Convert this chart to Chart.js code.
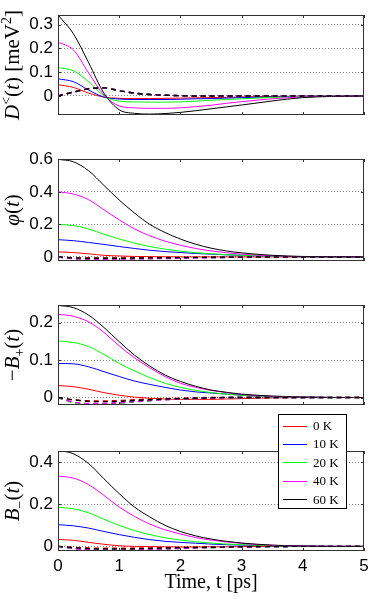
<!DOCTYPE html>
<html>
<head>
<meta charset="utf-8">
<script src="https://cdn.jsdelivr.net/npm/chart.js@4.4.0/dist/chart.umd.min.js"></script>
<style>
  html, body { margin: 0; padding: 0; background: #fff; }
  #wrap { position: relative; width: 374px; height: 599px; overflow: hidden; }
  canvas { position: absolute; left: 0; }
</style>
</head>
<body>
<div id="wrap">
  <canvas id="dLessChart" width="374" height="125" style="top:0px"></canvas>
  <canvas id="phiChart" width="374" height="125" style="top:140px"></canvas>
  <canvas id="bPlusChart" width="374" height="125" style="top:285px"></canvas>
  <canvas id="bMinusChart" width="374" height="189" style="top:410px"></canvas>
</div>
<script>
// time axis, ps
const times = [0, 0.25, 0.5, 0.75, 1, 1.25, 1.5, 1.75, 2, 2.25, 2.5, 2.75, 3, 3.5, 4, 4.5, 5];
const tempLabels = ['0 K', '10 K', '20 K', '40 K', '60 K'];
const xTicks = [0, 1, 2, 3, 4, 5];
const xTickLabels = ['0', '1', '2', '3', '4', '5'];

// D<(t) -- rows: 0 K, 10 K, 20 K, 40 K, 60 K
const dLessSolid = [
  [0.047, 0.036, 0.012, -0.005, -0.010, -0.011, -0.011, -0.010, -0.009, -0.008, -0.007, -0.006, -0.004, -0.002, -0.001, 0, 0],
  [0.072, 0.060, 0.025, -0.005, -0.013, -0.015, -0.015, -0.015, -0.014, -0.012, -0.011, -0.009, -0.007, -0.004, -0.001, 0, 0],
  [0.119, 0.106, 0.060, 0.000, -0.022, -0.025, -0.026, -0.026, -0.025, -0.022, -0.018, -0.015, -0.012, -0.006, -0.002, 0, 0],
  [0.226, 0.194, 0.097, 0.004, -0.042, -0.050, -0.052, -0.052, -0.050, -0.045, -0.039, -0.031, -0.024, -0.012, -0.004, -0.001, 0],
  [0.340, 0.262, 0.140, 0.012, -0.058, -0.073, -0.076, -0.074, -0.069, -0.062, -0.054, -0.046, -0.038, -0.021, -0.007, -0.002, 0]
];
const dLessDashed = [
  [0, 0.016, 0.030, 0.034, 0.022, 0.012, 0.006, 0.003, 0.001, 0, 0, 0, 0, 0, 0, 0, 0],
  [0, 0.016, 0.030, 0.034, 0.022, 0.012, 0.006, 0.003, 0.001, 0, 0, 0, 0, 0, 0, 0, 0],
  [0, 0.016, 0.030, 0.034, 0.022, 0.012, 0.006, 0.003, 0.001, 0, 0, 0, 0, 0, 0, 0, 0],
  [0, 0.016, 0.030, 0.034, 0.022, 0.012, 0.006, 0.003, 0.001, 0, 0, 0, 0, 0, 0, 0, 0],
  [0, 0.016, 0.030, 0.034, 0.022, 0.012, 0.006, 0.003, 0.001, 0, 0, 0, 0, 0, 0, 0, 0]
];
const dLessTicks = [0, 0.1, 0.2, 0.3];
const dLessTickLabels = ['0', '0.1', '0.2', '0.3'];

// phi(t)
const phiSolid = [
  [0.031, 0.027, 0.019, 0.010, 0.006, 0.003, 0.002, 0.001, 0, 0, 0, 0, 0, 0, 0, 0, 0],
  [0.106, 0.100, 0.089, 0.077, 0.064, 0.052, 0.041, 0.033, 0.027, 0.021, 0.017, 0.013, 0.010, 0.004, 0.001, 0, 0],
  [0.200, 0.193, 0.172, 0.139, 0.110, 0.085, 0.064, 0.048, 0.035, 0.026, 0.019, 0.014, 0.010, 0.004, 0.001, 0, 0],
  [0.400, 0.387, 0.352, 0.290, 0.228, 0.172, 0.130, 0.097, 0.072, 0.052, 0.037, 0.026, 0.017, 0.007, 0.002, 0.001, 0],
  [0.600, 0.585, 0.530, 0.440, 0.350, 0.270, 0.200, 0.150, 0.110, 0.078, 0.054, 0.037, 0.025, 0.010, 0.003, 0.001, 0]
];
const phiDashed = [
  [0, -0.005, -0.007, -0.007, -0.007, -0.006, -0.005, -0.004, -0.003, -0.003, -0.002, -0.001, -0.001, 0, 0, 0, 0],
  [0, -0.009, -0.011, -0.011, -0.011, -0.010, -0.009, -0.007, -0.006, -0.005, -0.004, -0.003, -0.002, -0.001, 0, 0, 0],
  [0, -0.010, -0.013, -0.013, -0.012, -0.011, -0.010, -0.008, -0.007, -0.005, -0.004, -0.003, -0.002, -0.001, 0, 0, 0],
  [0, -0.010, -0.013, -0.014, -0.013, -0.012, -0.011, -0.010, -0.008, -0.006, -0.005, -0.003, -0.002, -0.001, 0, 0, 0],
  [0, -0.006, -0.008, -0.008, -0.008, -0.007, -0.006, -0.005, -0.004, -0.003, -0.002, -0.001, -0.001, 0, 0, 0, 0]
];
const phiTicks = [0, 0.2, 0.4, 0.6];
const phiTickLabels = ['0', '0.2', '0.4', '0.6'];

// -B+(t)
const bPlusSolid = [
  [0.032, 0.029, 0.022, 0.013, 0.006, 0.001, -0.002, -0.004, -0.005, -0.005, -0.005, -0.004, -0.003, -0.001, 0, 0, 0],
  [0.091, 0.090, 0.082, 0.069, 0.056, 0.044, 0.035, 0.027, 0.020, 0.015, 0.012, 0.009, 0.006, 0.002, 0.001, 0, 0],
  [0.151, 0.147, 0.136, 0.115, 0.091, 0.071, 0.053, 0.038, 0.027, 0.019, 0.013, 0.009, 0.006, 0.002, 0.001, 0, 0],
  [0.222, 0.217, 0.202, 0.174, 0.138, 0.106, 0.079, 0.056, 0.038, 0.027, 0.019, 0.013, 0.008, 0.003, 0.001, 0, 0],
  [0.246, 0.240, 0.220, 0.187, 0.149, 0.113, 0.084, 0.060, 0.043, 0.030, 0.020, 0.014, 0.009, 0.004, 0.001, 0, 0]
];
const bPlusDashed = [
  [0, -0.006, -0.009, -0.009, -0.008, -0.006, -0.004, -0.003, -0.002, -0.001, 0, 0, 0, 0, 0, 0, 0],
  [0, -0.013, -0.018, -0.017, -0.014, -0.011, -0.008, -0.005, -0.004, -0.002, -0.001, 0, 0, 0, 0, 0, 0],
  [0, -0.014, -0.018, -0.018, -0.015, -0.012, -0.009, -0.006, -0.004, -0.003, -0.002, -0.001, 0, 0, 0, 0, 0],
  [0, -0.012, -0.016, -0.016, -0.014, -0.011, -0.008, -0.006, -0.004, -0.003, -0.002, -0.001, 0, 0, 0, 0, 0],
  [0, -0.006, -0.010, -0.011, -0.010, -0.008, -0.006, -0.004, -0.003, -0.002, -0.001, 0, 0, 0, 0, 0, 0]
];
const bPlusTicks = [0, 0.1, 0.2];
const bPlusTickLabels = ['0', '0.1', '0.2'];

// B-(t)
const bMinusSolid = [
  [0.033, 0.029, 0.019, 0.010, 0.003, 0, -0.001, -0.002, -0.003, -0.003, -0.002, -0.002, -0.001, 0, 0, 0, 0],
  [0.103, 0.098, 0.087, 0.071, 0.056, 0.043, 0.032, 0.024, 0.019, 0.015, 0.011, 0.008, 0.006, 0.002, 0.001, 0, 0],
  [0.186, 0.179, 0.160, 0.129, 0.100, 0.075, 0.056, 0.041, 0.030, 0.022, 0.016, 0.011, 0.008, 0.003, 0.001, 0, 0],
  [0.335, 0.325, 0.294, 0.243, 0.187, 0.143, 0.106, 0.079, 0.059, 0.042, 0.030, 0.021, 0.014, 0.005, 0.002, 0, 0],
  [0.457, 0.441, 0.394, 0.322, 0.251, 0.187, 0.140, 0.100, 0.071, 0.050, 0.035, 0.024, 0.016, 0.006, 0.002, 0, 0]
];
const bMinusDashed = [
  [0, -0.005, -0.008, -0.009, -0.009, -0.008, -0.007, -0.006, -0.005, -0.004, -0.003, -0.002, -0.001, 0, 0, 0, 0],
  [0, -0.009, -0.014, -0.016, -0.016, -0.015, -0.013, -0.011, -0.009, -0.007, -0.005, -0.004, -0.002, -0.001, 0, 0, 0],
  [0, -0.010, -0.015, -0.017, -0.017, -0.016, -0.014, -0.012, -0.010, -0.008, -0.006, -0.004, -0.003, -0.001, 0, 0, 0],
  [0, -0.010, -0.016, -0.018, -0.018, -0.017, -0.015, -0.012, -0.010, -0.008, -0.006, -0.004, -0.003, -0.001, 0, 0, 0],
  [0, -0.006, -0.010, -0.012, -0.012, -0.011, -0.010, -0.008, -0.006, -0.005, -0.004, -0.003, -0.002, -0.001, 0, 0, 0]
];
const bMinusTicks = [0, 0.2, 0.4];
const bMinusTickLabels = ['0', '0.2', '0.4'];

const lineColors = ['#ff0000', '#0000ff', '#00ff00', '#ff00ff', '#000000'];

Chart.defaults.font.family = 'Liberation Sans';
Chart.defaults.color = '#000';

// y label with italics / sub / superscripts, drawn rotated
function drawRotTitle(ctx, parts, cx, cy) {
  const fonts = {
    i: 'italic 21px "Liberation Serif"',
    n: '21px "Liberation Serif"',
    s: '14px "Liberation Serif"',
    b: '14px "Liberation Serif"'
  };
  const shift = { i: 0, n: 0, s: -8, b: 5 };
  ctx.save();
  let total = 0;
  parts.forEach(p => { ctx.font = fonts[p[1]]; total += ctx.measureText(p[0]).width; });
  ctx.translate(cx, cy);
  ctx.rotate(-Math.PI / 2);
  ctx.fillStyle = '#000';
  ctx.textBaseline = 'alphabetic';
  ctx.textAlign = 'left';
  let u = -total / 2;
  parts.forEach(p => {
    ctx.font = fonts[p[1]];
    ctx.fillText(p[0], u, shift[p[1]]);
    u += ctx.measureText(p[0]).width;
  });
  ctx.restore();
}

// box, inward tick marks and y label (matlab look)
const framePlugin = {
  id: 'frame',
  afterDraw(chart, args, opts) {
    const { ctx, chartArea: a, scales: { x, y } } = chart;
    ctx.save();
    ctx.strokeStyle = '#333';
    ctx.lineWidth = 1;
    ctx.strokeRect(a.left + 0.5, a.top + 0.5, a.right - a.left - 1, a.bottom - a.top - 1);
    ctx.beginPath();
    xTicks.forEach(v => {
      const px = Math.round(x.getPixelForValue(v)) + 0.5;
      ctx.moveTo(px, a.top); ctx.lineTo(px, a.top + 3);
      ctx.moveTo(px, a.bottom); ctx.lineTo(px, a.bottom - 3);
    });
    opts.yTicks.forEach(v => {
      const py = Math.round(y.getPixelForValue(v)) + 0.5;
      ctx.moveTo(a.left, py); ctx.lineTo(a.left + 3, py);
      ctx.moveTo(a.right, py); ctx.lineTo(a.right - 3, py);
    });
    ctx.stroke();
    ctx.restore();
    drawRotTitle(ctx, opts.title, 19, (a.top + a.bottom) / 2);
  }
};

// legend box in the lower panel
const legendPlugin = {
  id: 'legendBox',
  afterDraw(chart) {
    const ctx = chart.ctx;
    ctx.save();
    ctx.fillStyle = '#fff';
    ctx.fillRect(278, 4, 68, 94);
    ctx.strokeStyle = '#000';
    ctx.lineWidth = 1;
    ctx.strokeRect(278.5, 4.5, 68, 94);
    ctx.font = '13px "Liberation Serif"';
    ctx.textBaseline = 'middle';
    ctx.fillStyle = '#000';
    tempLabels.forEach((lab, i) => {
      const yy = 15.5 + i * 18.4;
      ctx.strokeStyle = lineColors[i];
      ctx.beginPath();
      ctx.moveTo(283, Math.round(yy) + 0.5);
      ctx.lineTo(307, Math.round(yy) + 0.5);
      ctx.stroke();
      ctx.fillText(lab, 313, yy + 1);
    });
    ctx.restore();
  }
};

function buildPanel(id, solid, dashed, yMin, yMax, yTicks, yLabels, title, pad, bottom) {
  const datasets = [];
  solid.forEach((row, i) => {
    datasets.push({
      label: tempLabels[i],
      data: times.map((t, j) => ({ x: t, y: row[j] })),
      borderColor: lineColors[i],
      borderWidth: 1,
      order: 9 - i
    });
  });
  dashed.forEach((row, i) => {
    datasets.push({
      label: tempLabels[i] + ' (dashed)',
      data: times.map((t, j) => ({ x: t, y: row[j] })),
      borderColor: lineColors[i],
      borderWidth: 1.4,
      borderDash: [5, 4],
      order: 4 - i
    });
  });

  const plugins = [framePlugin];
  if (bottom) plugins.push(legendPlugin);

  new Chart(document.getElementById(id), {
    type: 'line',
    data: { datasets },
    plugins,
    options: {
      responsive: false,
      animation: false,
      layout: { padding: pad, autoPadding: false },
      elements: { point: { radius: 0, hoverRadius: 0 }, line: { cubicInterpolationMode: 'monotone', fill: false } },
      plugins: {
        legend: { display: false },
        tooltip: { enabled: false },
        frame: { yTicks, title }
      },
      scales: {
        x: {
          type: 'linear',
          min: 0,
          max: 5,
          display: bottom,
          afterBuildTicks: s => { s.ticks = xTicks.map(v => ({ value: v })); },
          ticks: {
            font: { size: 17 },
            color: '#000',
            padding: 5,
            maxRotation: 0,
            autoSkip: false,
            callback: (v, i) => xTickLabels[i]
          },
          grid: { display: false, drawTicks: false },
          border: { display: false },
          title: {
            display: bottom,
            text: 'Time, t [ps]',
            font: { family: 'Liberation Serif', size: 20 },
            color: '#000',
            padding: { top: 0, bottom: 4 }
          },
          afterFit: s => {
            if (bottom) s.height = 48;
            s.paddingLeft = 0;
            s.paddingRight = 0;
          }
        },
        y: {
          type: 'linear',
          min: yMin,
          max: yMax,
          afterBuildTicks: s => { s.ticks = yTicks.map(v => ({ value: v })); },
          ticks: {
            font: { size: 17 },
            color: '#000',
            padding: 5,
            autoSkip: false,
            callback: (v, i) => yLabels[i]
          },
          grid: { color: '#888', drawTicks: false, lineWidth: 1 },
          border: { display: false, dash: [1, 2] },
          afterFit: s => { s.width = 58; s.paddingTop = 0; s.paddingBottom = 0; }
        }
      }
    }
  });
}

buildPanel('dLessChart', dLessSolid, dLessDashed, -0.08, 0.34, dLessTicks, dLessTickLabels,
  [['D', 'i'], ['<', 's'], ['(', 'n'], ['t', 'i'], [') [meV', 'n'], ['2', 's'], [']', 'n']],
  { left: 0, right: 10, top: 15, bottom: 10 }, false);

buildPanel('phiChart', phiSolid, phiDashed, -0.025, 0.602, phiTicks, phiTickLabels,
  [['\u03C6', 'i'], ['(', 'n'], ['t', 'i'], [')', 'n']],
  { left: 0, right: 10, top: 19, bottom: 4 }, false);

buildPanel('bPlusChart', bPlusSolid, bPlusDashed, -0.02, 0.247, bPlusTicks, bPlusTickLabels,
  [['\u2212', 'n'], ['B', 'i'], ['+', 'b'], ['(', 'n'], ['t', 'i'], [')', 'n']],
  { left: 0, right: 10, top: 20, bottom: 5 }, false);

buildPanel('bMinusChart', bMinusSolid, bMinusDashed, -0.022, 0.454, bMinusTicks, bMinusTickLabels,
  [['B', 'i'], ['\u2212', 'b'], ['(', 'n'], ['t', 'i'], [')', 'n']],
  { left: 0, right: 10, top: 41, bottom: 0 }, true);
</script>
</body>
</html>
